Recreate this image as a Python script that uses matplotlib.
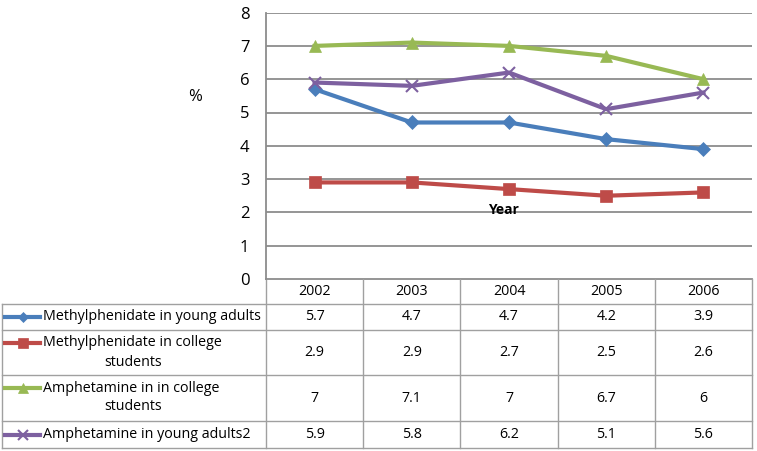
import matplotlib.pyplot as plt

years = ["2002", "2003", "2004", "2005", "2006"]
series_names = [
    "Methylphenidate in young adults",
    "Methylphenidate in college\nstudents",
    "Amphetamine in in college\nstudents",
    "Amphetamine in young adults2",
]
mph_young = [5.7, 4.7, 4.7, 4.2, 3.9]
mph_college = [2.9, 2.9, 2.7, 2.5, 2.6]
amph_college = [7, 7.1, 7, 6.7, 6]
amph_young = [5.9, 5.8, 6.2, 5.1, 5.6]

all_values = [mph_young, mph_college, amph_college, amph_young]
colors = ["#4a7ebb", "#be4b48", "#98b954", "#7d60a0"]
markers = ["D", "s", "^", "x"]
msizes = [7, 9, 9, 9]

W, H = 757, 451
plt.rcParams["font.family"] = ["Open Sans", "DejaVu Sans"]
fig = plt.figure(figsize=(W / 100, H / 100), dpi=100)


def fx(px):
    return px / W


def fy(py):
    return 1 - py / H


grid_c = "#8c8c8c"

# chart area
left, right, top, bottom = 266, 752, 12.6, 279
ax = fig.add_axes([fx(left), fy(bottom), fx(right - left), fy(top) - fy(bottom)])
x = list(range(len(years)))
for vals, c, m, ms in zip(all_values, colors, markers, msizes):
    ax.plot(x, vals, color=c, lw=3, marker=m, markersize=ms,
            markeredgewidth=1.5 if m == "x" else 0.5, markeredgecolor=c, zorder=3)
ax.set_xlim(-0.5, len(years) - 0.5)
ax.set_ylim(0, 8)
ax.set_yticks(range(0, 9))
ax.set_xticks([])
ax.grid(axis="y", color=grid_c, lw=1.3)
ax.tick_params(axis="y", length=0, labelsize=12, pad=12)
for s in ["top", "right", "bottom"]:
    ax.spines[s].set_visible(False)
ax.spines["left"].set_color(grid_c)
ax.spines["left"].set_linewidth(1.3)
ax.set_axisbelow(True)
fig.text(fx(195), fy(97), "%", fontsize=12, ha="center", va="center")
fig.text(fx(503), fy(210), "Year", fontsize=10, fontweight="bold", ha="center", va="center")

# data table
row_edges = [279, 304, 330, 375, 421, 448]
col_edges = [266 + i * (right - left) / len(years) for i in range(len(years) + 1)]
tax = fig.add_axes([0, 0, 1, 1], zorder=-1)
tax.set_xlim(0, W)
tax.set_ylim(H, 0)
tax.axis("off")
lc = "#a0a0a0"
tax.plot([left, right], [row_edges[0], row_edges[0]], color=grid_c, lw=1.3)
for ry in row_edges[1:]:
    tax.plot([2, right], [ry, ry], color=lc, lw=1)
tax.plot([2, 2], [row_edges[1], row_edges[-1]], color=lc, lw=1)
for cx in col_edges:
    tax.plot([cx, cx], [row_edges[0], row_edges[-1]], color=lc, lw=1)

fs = 10.3
for i, yr in enumerate(years):
    cx = (col_edges[i] + col_edges[i + 1]) / 2
    tax.text(cx, (row_edges[0] + row_edges[1]) / 2, yr, fontsize=fs,
             ha="center", va="center")

for r, (name, vals, c, m, ms) in enumerate(zip(series_names, all_values, colors, markers, msizes)):
    y0, y1 = row_edges[r + 1], row_edges[r + 2]
    cy = (y0 + y1) / 2
    first_line_y = cy if "\n" not in name else y0 + 13
    tax.plot([5, 40], [first_line_y, first_line_y], color=c, lw=3)
    tax.plot([22.5], [first_line_y], color=c, marker=m, markersize=ms - 2,
             markeredgewidth=1.5 if m == "x" else 0.5, markeredgecolor=c)
    if "\n" in name:
        l1, l2 = name.split("\n")
        tax.text(43, first_line_y, l1, fontsize=fs, ha="left", va="center")
        tax.text(133, y0 + 32, l2, fontsize=fs, ha="center", va="center")
    else:
        tax.text(43, cy, name, fontsize=fs, ha="left", va="center")
    for i, v in enumerate(vals):
        cx = (col_edges[i] + col_edges[i + 1]) / 2
        tax.text(cx, cy, f"{v:g}", fontsize=fs, ha="center", va="center")

fig.savefig("out.png", dpi=100)
